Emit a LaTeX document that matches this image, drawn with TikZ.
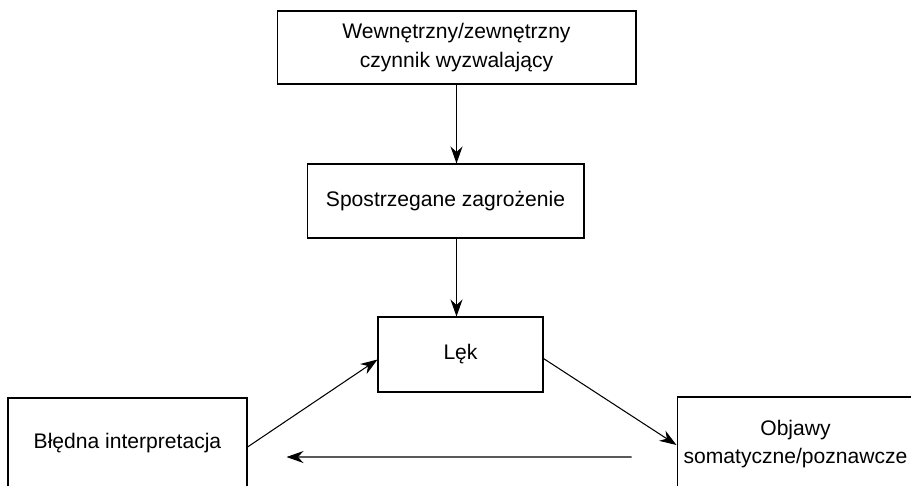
\documentclass[tikz,border=0pt]{standalone}
\usepackage{fontspec}
\setmainfont{Liberation Sans}
\usetikzlibrary{positioning,arrows.meta}

\tikzset{
  box/.style={draw, line width=0.6pt, align=center, inner sep=0pt,
    font=\fontsize{12}{17}\selectfont},
  arr/.style={-{Stealth[length=3.4mm,width=2.4mm]}, line width=0.6pt}
}

\begin{document}
\begin{tikzpicture}[x=0.02cm,y=-0.02cm]

  \useasboundingbox (0,0) rectangle (911,485);
  \clip (0,0) rectangle (911,485);

  % Define nodes
  \node[box, minimum width=7.18cm, minimum height=1.46cm] (trig) at (456.5,47.5) {Wewnętrzny/zewnętrzny\\czynnik wyzwalający};
  \node[box, minimum width=5.54cm, minimum height=1.48cm] (threat) at (445.5,201) {Spostrzegane zagrożenie};
  \node[box, minimum width=3.3cm, minimum height=1.5cm] (lek) at (460.5,354.5) {Lęk};
  \node[box, minimum width=4.78cm, minimum height=1.8cm] (interp) at (127.5,443) {Błędna interpretacja};
  \node[box, minimum width=4.74cm, minimum height=1.88cm, font=\fontsize{12}{16}\selectfont] (sympt) at (795.5,444) {Objawy\\somatyczne/poznawcze};
  \coordinate[xshift=-0.9cm, yshift=-0.26cm] (back-s) at (sympt.west);
  \coordinate[xshift=0.78cm, yshift=-0.28cm] (back-e) at (interp.east);

  % Connect the nodes
  \draw[arr] (trig.south) -- (trig.south |- threat.north);
  \draw[arr] (trig.south |- threat.south) -- (trig.south |- lek.north);
  \draw[arr] ([yshift=-0.08cm]interp.east) -- ([yshift=-0.1cm]lek.west);
  \draw[arr] ([yshift=-0.08cm]lek.east) -- ([yshift=-0.02cm]sympt.west);
  \draw[arr] (back-s) -- (back-e);

\end{tikzpicture}
\end{document}
